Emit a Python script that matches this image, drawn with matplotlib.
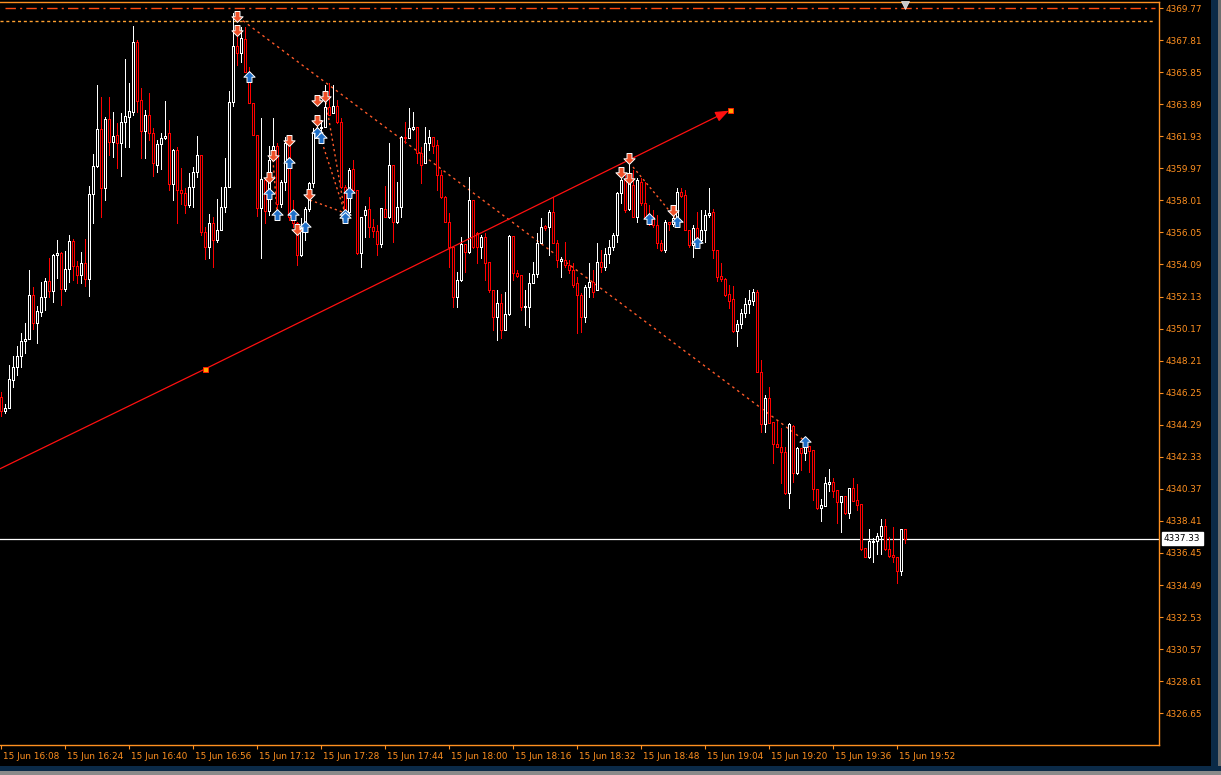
import matplotlib
matplotlib.use("Agg")
import matplotlib.pyplot as plt
from matplotlib.path import Path
from matplotlib.patches import Rectangle
from matplotlib.transforms import ScaledTranslation, blended_transform_factory
from matplotlib import font_manager

# ---------------- data (1-minute candles, 15 Jun 16:08 .. 19:54) ----------------
opens = [
    4345.99, 4345.13, 4345.31, 4347.03, 4347.82, 4348.49, 4349.41, 4349.53, 4352.22, 4350.51,
    4351.18, 4352.10, 4353.08, 4352.47, 4354.67, 4354.79, 4352.59, 4353.81, 4355.53, 4354.00,
    4353.45, 4354.18, 4353.20, 4358.40, 4360.11, 4362.37, 4358.77, 4362.98, 4361.58, 4362.01,
    4361.52, 4362.80, 4363.11, 4363.41, 4367.69, 4364.15, 4362.25, 4363.23, 4362.13, 4360.17,
    4361.46, 4361.82, 4362.13, 4359.01, 4361.09, 4358.64, 4358.46, 4357.73, 4358.83, 4359.74,
    4360.78, 4356.08, 4355.16, 4356.63, 4355.59, 4356.20, 4357.60, 4358.83, 4364.02, 4367.45,
    4367.02, 4367.88, 4365.86, 4363.96, 4362.01, 4357.54, 4359.25, 4357.36, 4360.48, 4361.33,
    4357.79, 4359.13, 4361.52, 4356.99, 4356.63, 4354.67, 4356.32, 4357.48, 4359.07, 4362.13,
    4362.43, 4362.50, 4363.72, 4363.35, 4363.78, 4362.80, 4358.83, 4357.30, 4359.93, 4358.64,
    4354.79, 4357.12, 4357.48, 4356.38, 4356.14, 4355.34, 4357.48, 4356.99, 4360.17, 4356.69,
    4357.60, 4361.88, 4361.82, 4362.37, 4362.50, 4360.91, 4360.29, 4361.52, 4361.88, 4361.39,
    4359.56, 4358.22, 4356.69, 4355.16, 4352.10, 4353.14, 4355.34, 4354.85, 4358.03, 4356.01,
    4355.16, 4355.77, 4354.24, 4352.53, 4350.88, 4351.73, 4350.08, 4351.06, 4355.83, 4353.57,
    4353.45, 4351.49, 4351.49, 4352.96, 4353.51, 4355.40, 4356.44, 4356.38, 4357.30, 4355.40,
    4354.30, 4354.36, 4354.06, 4353.75, 4352.96, 4352.22, 4350.88, 4352.71, 4353.02, 4352.53,
    4354.24, 4353.94, 4354.73, 4355.16, 4355.89, 4358.46, 4359.25, 4357.48, 4358.95, 4356.99,
    4359.13, 4357.85, 4356.99, 4356.99, 4356.50, 4355.40, 4354.97, 4356.69, 4356.56, 4356.50,
    4358.52, 4358.34, 4356.20, 4355.28, 4356.32, 4355.59, 4356.20, 4357.12, 4357.30, 4354.97,
    4353.39, 4353.20, 4352.28, 4351.98, 4350.02, 4350.45, 4351.12, 4351.67, 4351.86, 4352.41,
    4347.52, 4344.34, 4345.93, 4344.46, 4343.11, 4342.93, 4342.62, 4340.12, 4344.21, 4341.34,
    4342.87, 4342.56, 4342.99, 4342.75, 4340.36, 4339.20, 4339.32, 4340.67, 4340.79, 4340.30,
    4339.57, 4339.93, 4338.90, 4340.42, 4339.69, 4339.45, 4336.76, 4336.20, 4337.12, 4337.18,
    4337.49, 4338.10, 4336.69, 4336.33, 4336.20, 4335.35, 4337.92,
]
highs = [
    4346.29, 4345.56, 4347.94, 4348.49, 4349.11, 4349.90, 4350.51, 4353.75, 4352.71, 4351.55,
    4353.02, 4353.26, 4354.49, 4354.73, 4355.59, 4354.85, 4354.91, 4355.89, 4355.65, 4354.30,
    4354.85, 4355.65, 4358.89, 4360.84, 4365.06, 4364.33, 4363.11, 4364.33, 4363.41, 4362.74,
    4363.35, 4366.65, 4365.19, 4368.67, 4367.81, 4364.88, 4363.53, 4364.57, 4362.43, 4361.70,
    4362.13, 4364.09, 4362.92, 4361.15, 4361.27, 4359.99, 4358.77, 4359.68, 4360.05, 4361.95,
    4360.78, 4356.38, 4357.18, 4356.99, 4358.09, 4358.83, 4360.60, 4364.70, 4369.47, 4368.55,
    4368.61, 4368.61, 4366.16, 4363.96, 4362.01, 4363.05, 4359.38, 4361.33, 4363.05, 4361.52,
    4359.25, 4361.88, 4361.88, 4358.03, 4356.69, 4356.93, 4357.60, 4359.13, 4362.43, 4362.62,
    4362.92, 4365.06, 4365.19, 4365.06, 4364.15, 4363.05, 4358.95, 4359.99, 4360.48, 4358.64,
    4356.99, 4357.67, 4358.22, 4356.87, 4356.50, 4357.54, 4358.89, 4361.52, 4360.17, 4359.13,
    4361.95, 4362.80, 4363.66, 4363.41, 4362.50, 4361.27, 4362.50, 4362.31, 4361.88, 4361.70,
    4359.87, 4358.28, 4357.24, 4355.16, 4353.63, 4355.77, 4355.34, 4359.44, 4358.03, 4356.08,
    4355.89, 4356.01, 4354.24, 4352.53, 4352.53, 4352.28, 4352.41, 4355.89, 4355.83, 4353.75,
    4353.45, 4352.53, 4353.57, 4354.24, 4356.01, 4356.93, 4356.50, 4357.42, 4358.22, 4355.59,
    4354.55, 4355.46, 4354.36, 4354.18, 4353.32, 4352.35, 4352.84, 4354.18, 4353.75, 4355.40,
    4354.97, 4355.10, 4355.59, 4356.01, 4358.52, 4359.56, 4359.56, 4360.29, 4359.87, 4359.38,
    4359.38, 4359.13, 4357.73, 4357.42, 4357.12, 4355.59, 4356.81, 4356.69, 4357.54, 4358.77,
    4358.77, 4358.64, 4356.20, 4356.50, 4357.30, 4357.42, 4357.42, 4358.77, 4357.48, 4354.97,
    4354.18, 4353.26, 4352.84, 4352.77, 4350.70, 4351.37, 4352.04, 4352.53, 4352.59, 4352.53,
    4348.25, 4346.11, 4346.60, 4344.46, 4344.52, 4344.09, 4342.93, 4344.40, 4344.28, 4342.93,
    4342.87, 4343.17, 4342.99, 4342.75, 4340.36, 4339.75, 4341.10, 4341.59, 4341.03, 4340.30,
    4339.93, 4339.93, 4340.42, 4341.03, 4340.67, 4339.45, 4336.76, 4337.92, 4337.37, 4337.67,
    4338.53, 4338.53, 4337.43, 4338.04, 4336.20, 4337.92, 4337.92,
]
lows = [
    4344.83, 4345.01, 4345.31, 4346.60, 4347.33, 4347.82, 4348.68, 4349.53, 4350.14, 4349.29,
    4350.94, 4351.31, 4352.10, 4351.80, 4353.26, 4351.61, 4352.47, 4353.02, 4353.14, 4352.96,
    4352.96, 4352.77, 4352.16, 4356.63, 4360.05, 4356.99, 4358.03, 4360.78, 4360.66, 4359.99,
    4359.50, 4361.27, 4361.27, 4363.23, 4363.41, 4360.60, 4360.60, 4361.70, 4359.50, 4359.74,
    4359.93, 4361.76, 4358.64, 4358.03, 4356.63, 4357.79, 4357.24, 4357.60, 4357.60, 4359.44,
    4355.89, 4354.42, 4354.49, 4353.94, 4355.46, 4356.20, 4357.30, 4358.83, 4363.78, 4366.29,
    4366.47, 4365.86, 4363.96, 4362.01, 4357.05, 4354.49, 4356.63, 4357.12, 4360.48, 4356.99,
    4357.60, 4358.64, 4356.81, 4356.38, 4354.06, 4354.61, 4355.59, 4357.36, 4358.83, 4361.88,
    4362.01, 4362.50, 4363.23, 4363.35, 4362.74, 4358.77, 4357.24, 4357.18, 4358.52, 4354.73,
    4353.94, 4355.77, 4355.77, 4355.77, 4354.67, 4355.16, 4356.99, 4356.93, 4355.46, 4356.63,
    4356.99, 4361.52, 4361.82, 4362.31, 4360.29, 4359.07, 4360.29, 4361.09, 4360.91, 4358.64,
    4358.15, 4356.69, 4353.94, 4351.49, 4351.49, 4353.08, 4353.63, 4354.79, 4355.10, 4354.18,
    4354.49, 4353.14, 4352.41, 4350.08, 4349.47, 4349.59, 4350.08, 4351.00, 4353.14, 4353.32,
    4351.31, 4350.39, 4350.27, 4352.96, 4353.32, 4355.40, 4356.20, 4354.67, 4355.40, 4353.94,
    4353.32, 4353.94, 4353.57, 4352.71, 4349.90, 4349.96, 4350.57, 4352.10, 4352.10, 4352.53,
    4353.63, 4353.75, 4354.18, 4354.97, 4355.46, 4357.85, 4357.30, 4357.42, 4356.99, 4356.69,
    4357.73, 4356.93, 4356.50, 4356.38, 4355.10, 4354.91, 4354.85, 4356.20, 4356.44, 4356.38,
    4358.22, 4356.20, 4355.16, 4354.55, 4355.28, 4355.40, 4355.46, 4356.99, 4354.49, 4353.08,
    4353.08, 4352.16, 4351.43, 4349.96, 4349.11, 4350.21, 4350.88, 4351.12, 4351.61, 4347.52,
    4343.85, 4343.85, 4344.40, 4341.95, 4342.93, 4340.73, 4340.06, 4339.20, 4340.79, 4341.28,
    4341.52, 4342.14, 4341.40, 4339.69, 4339.14, 4338.41, 4339.32, 4340.24, 4339.87, 4338.28,
    4337.73, 4338.83, 4338.59, 4339.63, 4339.08, 4336.63, 4336.20, 4336.14, 4335.90, 4336.39,
    4336.39, 4336.63, 4336.20, 4335.90, 4334.61, 4335.10, 4337.06,
]
closes = [
    4345.13, 4345.31, 4347.09, 4347.82, 4348.49, 4349.41, 4349.53, 4352.22, 4350.51, 4351.25,
    4352.10, 4353.08, 4352.47, 4354.67, 4354.79, 4352.59, 4353.81, 4355.53, 4354.00, 4353.45,
    4354.18, 4353.20, 4358.40, 4360.11, 4362.37, 4358.77, 4362.98, 4361.58, 4361.95, 4361.52,
    4362.80, 4363.17, 4363.47, 4367.69, 4364.09, 4362.25, 4363.23, 4362.13, 4360.29, 4361.46,
    4361.82, 4361.95, 4359.01, 4361.09, 4358.64, 4358.46, 4357.73, 4358.83, 4359.74, 4360.78,
    4356.08, 4355.16, 4356.63, 4355.59, 4356.20, 4357.60, 4358.83, 4364.02, 4367.45, 4367.02,
    4367.94, 4365.86, 4363.96, 4362.01, 4357.54, 4359.32, 4357.36, 4360.48, 4361.33, 4357.79,
    4359.13, 4361.52, 4356.99, 4356.63, 4354.67, 4356.32, 4357.48, 4359.07, 4362.13, 4362.43,
    4362.50, 4363.72, 4363.23, 4363.78, 4362.80, 4358.83, 4357.30, 4359.87, 4358.64, 4354.79,
    4356.99, 4357.42, 4356.38, 4356.14, 4355.34, 4357.54, 4356.99, 4360.17, 4356.69, 4357.60,
    4361.88, 4361.82, 4362.43, 4362.50, 4360.91, 4360.17, 4361.52, 4361.88, 4361.33, 4359.56,
    4358.22, 4356.69, 4355.16, 4352.10, 4353.14, 4355.34, 4354.85, 4358.03, 4355.16, 4355.16,
    4355.77, 4354.18, 4352.53, 4350.88, 4351.73, 4350.08, 4351.06, 4355.83, 4353.57, 4353.39,
    4351.49, 4351.55, 4352.96, 4353.51, 4355.40, 4356.38, 4356.32, 4357.30, 4355.40, 4354.36,
    4354.42, 4354.06, 4353.75, 4352.84, 4352.22, 4350.88, 4352.71, 4353.02, 4352.41, 4354.24,
    4353.94, 4354.73, 4355.16, 4355.89, 4358.46, 4359.25, 4357.42, 4359.25, 4356.99, 4359.25,
    4357.85, 4356.99, 4356.63, 4356.50, 4355.40, 4354.97, 4356.69, 4356.56, 4356.93, 4358.52,
    4358.28, 4356.20, 4355.28, 4356.32, 4355.59, 4356.20, 4357.12, 4357.24, 4354.97, 4353.32,
    4353.20, 4352.22, 4351.86, 4350.02, 4350.45, 4351.12, 4351.67, 4351.92, 4352.41, 4347.52,
    4344.34, 4345.93, 4344.40, 4343.11, 4342.93, 4342.62, 4340.12, 4344.34, 4341.34, 4342.87,
    4342.56, 4342.99, 4342.69, 4340.36, 4339.20, 4339.38, 4340.73, 4340.79, 4340.24, 4339.57,
    4339.93, 4338.90, 4340.42, 4339.63, 4339.38, 4336.69, 4336.20, 4337.18, 4337.18, 4337.49,
    4338.10, 4336.69, 4336.27, 4336.20, 4335.35, 4337.92, 4337.33,
]

time_tick_idx = [0, 16, 32, 48, 64, 80, 96, 112, 128, 144, 160, 176, 192, 208, 224]
time_labels = ["15 Jun 16:08", "15 Jun 16:24", "15 Jun 16:40", "15 Jun 16:56", "15 Jun 17:12",
               "15 Jun 17:28", "15 Jun 17:44", "15 Jun 18:00", "15 Jun 18:16", "15 Jun 18:32",
               "15 Jun 18:48", "15 Jun 19:04", "15 Jun 19:20", "15 Jun 19:36", "15 Jun 19:52"]
price_ticks = [4369.77, 4367.81, 4365.85, 4363.89, 4361.93, 4359.97, 4358.01, 4356.05, 4354.09,
               4352.13, 4350.17, 4348.21, 4346.25, 4344.29, 4342.33, 4340.37, 4338.41, 4336.45,
               4334.49, 4332.53, 4330.57, 4328.61, 4326.65]
price_labels = ["4369.77", "4367.81", "4365.85", "4363.89", "4361.93", "4359.97", "4358.01",
                "4356.05", "4354.09", "4352.13", "4350.17", "4348.21", "4346.25", "4344.29",
                "4342.33", "4340.37", "4338.41", "4336.45", "4334.49", "4332.53", "4330.57",
                "4328.61", "4326.65"]
current_price = 4337.33
current_label = "4337.33"
level_dashdot = 4369.77
level_dotted = 4368.98

trend_x = [-0.25, 51.0, 182.25]
trend_y = [4341.60, 4347.70, 4363.53]

zigzag_main_x = [59.25, 201.0]
zigzag_main_y = [4369.22, 4343.30]
zigzag_short = [
    ([81.0, 86.0], [4364.33, 4357.24]),
    ([79.0, 86.0], [4362.50, 4357.24]),
    ([77.25, 86.0], [4358.03, 4357.24]),
    ([68.0, 69.0], [4360.48, 4357.24]),
    ([158.0, 169.0], [4360.05, 4356.81]),
]

down_x = [59, 59, 79, 81, 79, 72, 68, 67, 77, 74, 157, 155, 157, 168]
down_y = [4369.28, 4368.43, 4364.15, 4364.39, 4362.92, 4361.70, 4360.78, 4359.44, 4358.40,
          4356.26, 4360.60, 4359.74, 4359.38, 4357.42]
up_x = [62, 67, 69, 72, 73, 76, 79, 80, 86, 86, 87, 162, 169, 174, 201]
up_y = [4365.55, 4358.40, 4357.12, 4360.29, 4357.12, 4356.38, 4362.13, 4361.82, 4357.12,
        4356.93, 4358.46, 4356.87, 4356.69, 4355.40, 4343.24]

shift_x = 226
shift_y = 4369.95

# ---------------- styling ----------------
BG = "black"
ORANGE = "#FF9020"
BULL = "white"
BEAR = "#FF0000"
W, H = 1221, 775
LW = 0.72  # one pixel


def pick_font():
    for fam in ["Liberation Sans Narrow", "DejaVu Sans"]:
        try:
            font_manager.findfont(font_manager.FontProperties(family=fam),
                                  fallback_to_default=False)
            return fam
        except Exception:
            pass
    return "DejaVu Sans"


FONT = pick_font()
FS = 8.2 if FONT == "Liberation Sans Narrow" else 6.4
plt.rcParams["font.family"] = [FONT, "DejaVu Sans"]
plt.rcParams["lines.scale_dashes"] = False

fig = plt.figure(figsize=(W / 100, H / 100), dpi=100, facecolor=BG)
ax = fig.add_axes([0, 1 - 745 / H, 1159 / W, (745 - 2) / H])
ax.set_facecolor(BG)

n = len(closes)
xs = list(range(n))
ax.set_xlim(-0.25, 289.5)
ax.set_ylim(4324.71, 4370.14)

# candles: wick, black body fill, 1px hollow outline
colors = [BULL if c >= o else BEAR for o, c in zip(opens, closes)]
body_lo = [min(o, c) for o, c in zip(opens, closes)]
body_hi = [max(o, c) for o, c in zip(opens, closes)]
ax.vlines(xs, lows, highs, colors=colors, linewidth=LW, zorder=2, antialiased=False)
for x, lo, hi in zip(xs, body_lo, body_hi):
    ax.add_patch(Rectangle((x - 0.25, lo), 0.5, hi - lo, facecolor=BG, edgecolor="none",
                           zorder=2.5, antialiased=False))
ax.vlines([x - 0.25 for x in xs], body_lo, body_hi, colors=colors, linewidth=LW, zorder=3,
          antialiased=False)
ax.vlines([x + 0.25 for x in xs], body_lo, body_hi, colors=colors, linewidth=LW, zorder=3,
          antialiased=False)
ax.hlines(body_lo, [x - 0.25 for x in xs], [x + 0.25 for x in xs], colors=colors,
          linewidth=LW, zorder=3, antialiased=False)
ax.hlines(body_hi, [x - 0.25 for x in xs], [x + 0.25 for x in xs], colors=colors,
          linewidth=LW, zorder=3, antialiased=False)

# level lines
ax.plot([0.9, 288.5], [level_dashdot, level_dashdot], color="#FF4A10", lw=1.0,
        dashes=(7.5, 3.0, 1.5, 3.0), zorder=1)
ax.plot([-0.25, 288.5], [level_dotted, level_dotted], color="#FFA030", lw=1.0,
        dashes=(2.2, 2.0), zorder=1)

# current price line + label
ax.axhline(current_price, color="white", lw=0.9, zorder=1)
tr = blended_transform_factory(ax.transAxes, ax.transData)
ax.text(1.0 + 5 / 1159, current_price, current_label, transform=tr, color="black",
        fontsize=FS, va="center", ha="left", clip_on=False,
        bbox=dict(facecolor="white", edgecolor="white", pad=1.6), zorder=10)

# zigzag dotted lines
ZZ = "#FF5A2A"
ax.plot(zigzag_main_x, zigzag_main_y, color=ZZ, lw=1.0, dashes=(1.8, 2.6), zorder=1.5)
for zx, zy in zigzag_short:
    ax.plot(zx, zy, color=ZZ, lw=1.0, dashes=(1.6, 2.2), zorder=1.5)

# trend line with arrow and anchor squares
slope = (trend_y[2] - trend_y[1]) / (trend_x[2] - trend_x[1])
ax.plot(trend_x[:2] + [trend_x[2] - 2.0], [trend_y[0], trend_y[1], trend_y[2] - 2.0 * slope],
        color="#FF1010", lw=0.9, zorder=4)
ax.annotate("", xy=(trend_x[2] - 0.3, trend_y[2] - 0.3 * slope),
            xytext=(trend_x[2] - 3.0, trend_y[2] - 3.0 * slope),
            arrowprops=dict(arrowstyle="-|>,head_length=0.9,head_width=0.35", color="#FF1010",
                            lw=0.9, shrinkA=0, shrinkB=0, mutation_scale=9), zorder=4)
ax.plot(trend_x[1:], trend_y[1:], ls="none", marker="s", ms=3.6, mfc="#FFA500", mec="#FF2000",
        mew=0.7, zorder=5)

# arrow markers
up_path = Path([(0, 1), (0.95, 0.05), (0.42, 0.05), (0.42, -0.85), (-0.42, -0.85),
                (-0.42, 0.05), (-0.95, 0.05), (0, 1)],
               [Path.MOVETO] + [Path.LINETO] * 6 + [Path.CLOSEPOLY])
down_path = Path([(x, -y) for x, y in up_path.vertices], up_path.codes)
ax.plot(down_x, down_y, ls="none", marker=down_path, ms=8.5, mfc="#EE5028", mec="white",
        mew=0.7, zorder=6)
ax.plot(up_x, up_y, ls="none", marker=up_path, ms=8.5, mfc="#1E6FC8", mec="white",
        mew=0.7, zorder=6)

# shift marker at top
ax.plot([shift_x], [shift_y], ls="none", marker="v", ms=6, mfc="#C8C8C8", mec="#EEEEEE",
        mew=0.5, zorder=7, clip_on=False)

# frame / spines
for side in ["top", "right", "bottom"]:
    ax.spines[side].set_color(ORANGE)
    ax.spines[side].set_linewidth(1.0)
ax.spines["left"].set_visible(False)

# axes ticks
ax.yaxis.tick_right()
ax.set_yticks(price_ticks)
ax.set_yticklabels(price_labels)
ax.tick_params(axis="y", which="both", direction="out", length=3.2, width=0.8, colors=ORANGE,
               labelsize=FS, pad=1.2, right=True, left=False, labelright=True, labelleft=False)
ax.set_xticks(time_tick_idx)
ax.set_xticklabels(time_labels)
ax.tick_params(axis="x", which="both", direction="out", length=3.2, width=0.8, colors=ORANGE,
               labelsize=FS, pad=1.5, bottom=True, top=False)
offset = ScaledTranslation(2 / 100, 0, fig.dpi_scale_trans)
for lbl in ax.get_xticklabels():
    lbl.set_horizontalalignment("left")
    lbl.set_transform(lbl.get_transform() + offset)

# window chrome (right and bottom strips)
fig.patches.append(Rectangle((1211 / W, 0), 7 / W, 1, transform=fig.transFigure,
                             facecolor="#0B2A47", edgecolor="none"))
fig.patches.append(Rectangle((1218 / W, 0), 3 / W, 1, transform=fig.transFigure,
                             facecolor="#6E6E6E", edgecolor="none"))
fig.patches.append(Rectangle((0, 4 / H), 1, 5 / H, transform=fig.transFigure,
                             facecolor="#0B2A47", edgecolor="none"))
fig.patches.append(Rectangle((0, 0), 1, 4 / H, transform=fig.transFigure,
                             facecolor="#8A8A8A", edgecolor="none"))

fig.savefig("out.png", dpi=100, facecolor=BG)
